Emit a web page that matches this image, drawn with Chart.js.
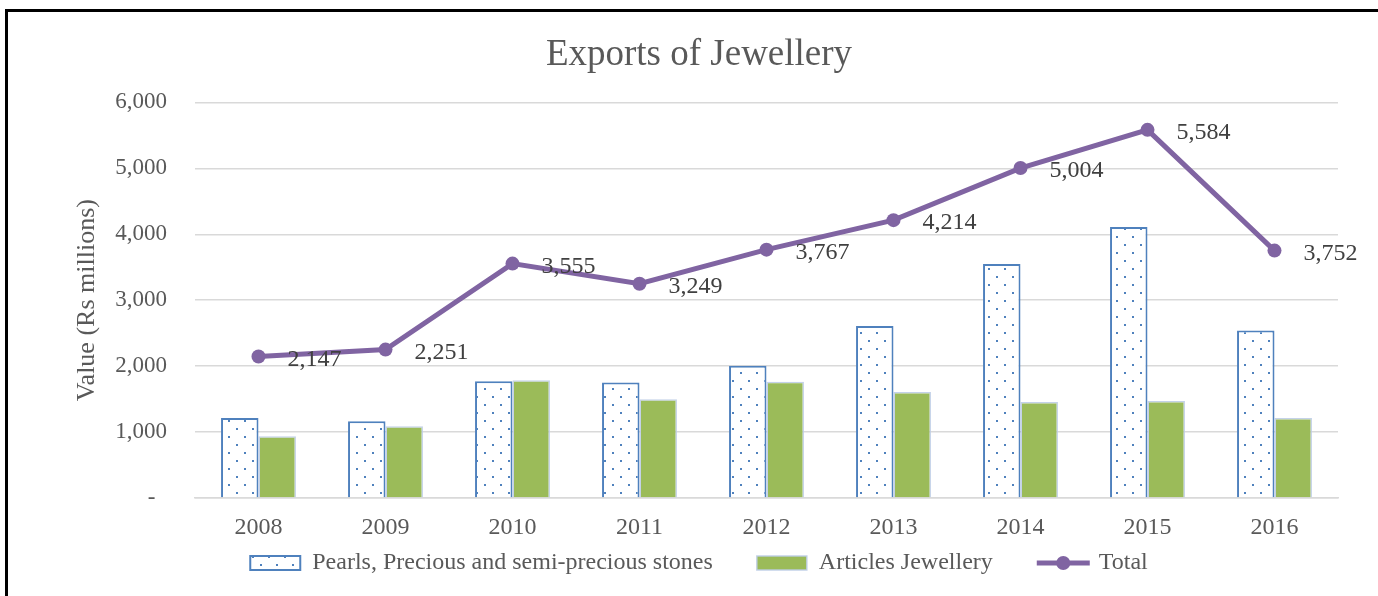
<!DOCTYPE html>
<html><head><meta charset="utf-8">
<script src="https://cdn.jsdelivr.net/npm/chart.js@4.4.1/dist/chart.umd.min.js"></script>
<style>
html,body{margin:0;padding:0;background:#fff;overflow:hidden;}
#wrap{position:relative;width:1378px;height:596px;background:#fff;}
#frame{position:absolute;left:5px;top:9px;width:1400px;height:620px;border-left:3px solid #000;border-top:3px solid #000;pointer-events:none;}
canvas{position:absolute;left:0;top:0;}
</style></head><body>
<div id="wrap"><canvas id="c" width="1378" height="596"></canvas><div id="frame"></div></div>
<script>
const years = ['2008','2009','2010','2011','2012','2013','2014','2015','2016'];
const pearls = [1212,1163,1770,1752,2005,2608,3548,4112,2540];
const articles = [935,1088,1785,1497,1762,1606,1456,1472,1212];
const totals = [2147,2251,3555,3249,3767,4214,5004,5584,3752];
const seriesNames = ['Pearls, Precious and semi-precious stones','Articles Jewellery','Total'];
const chartTitle = 'Exports of Jewellery';
const yAxisTitle = 'Value (Rs millions)';

const FONT = "'Liberation Serif', 'Times New Roman', serif";
const BLUE = '#4F81BD', GREEN = '#9BBB59', PURPLE = '#8064A2';

// dotted pattern
const pc = document.createElement('canvas'); pc.width = 16; pc.height = 16;
const pg = pc.getContext('2d');
pg.fillStyle = '#fff'; pg.fillRect(0,0,16,16);
pg.fillStyle = BLUE; pg.fillRect(4,4,2,2); pg.fillRect(12,12,2,2);
const ctx = document.getElementById('c').getContext('2d');
const dots = ctx.createPattern(pc, 'repeat');

const fmt = v => v.toLocaleString('en-US');
const GAP = '      '; // trailing spacing between legend items

const labelPlugin = {
  id: 'lineLabels',
  afterDatasetsDraw(chart) {
    const meta = chart.getDatasetMeta(2);
    const c = chart.ctx;
    c.save();
    c.font = '24px ' + FONT;
    c.fillStyle = '#404040';
    c.textAlign = 'left';
    c.textBaseline = 'middle';
    meta.data.forEach((pt, i) => {
      c.fillText(fmt(totals[i]), pt.x + 29, pt.y + 3);
    });
    c.restore();
  }
};

const legendIconPlugin = {
  id: 'legendIcon',
  afterDraw(chart) {
    const lg = chart.legend;
    if (!lg || !lg.legendHitBoxes[2]) return;
    const hb = lg.legendHitBoxes[2];
    const c = chart.ctx;
    const cy = hb.top + hb.height / 2;
    c.save();
    c.strokeStyle = PURPLE; c.lineWidth = 5; c.lineCap = 'butt';
    c.beginPath(); c.moveTo(hb.left, cy); c.lineTo(hb.left + 53, cy); c.stroke();
    c.fillStyle = PURPLE;
    c.beginPath(); c.arc(hb.left + 26.5, cy, 7, 0, Math.PI * 2); c.fill();
    c.restore();
  }
};

new Chart(ctx, {
  data: {
    labels: years,
    datasets: [
      { type: 'bar', label: seriesNames[0], data: pearls, backgroundColor: dots, borderColor: BLUE, borderWidth: 2, order: 1,
        categoryPercentage: 0.59, barPercentage: 1 },
      { type: 'bar', label: seriesNames[1], data: articles, backgroundColor: GREEN, borderColor: 'rgba(190,205,230,0.9)', borderWidth: 1.5, order: 1,
        categoryPercentage: 0.59, barPercentage: 1 },
      { type: 'line', label: seriesNames[2], data: totals, borderColor: PURPLE, backgroundColor: PURPLE, borderWidth: 5,
        pointRadius: 7, pointBackgroundColor: PURPLE, pointBorderWidth: 0, tension: 0, order: -1 }
    ]
  },
  options: {
    responsive: false,
    animation: false,
    events: [],
    layout: { padding: { top: 10, right: 40, bottom: 11, left: 60 } },
    plugins: {
      tooltip: { enabled: false },
      title: { display: true, text: chartTitle, color: '#595959',
        font: { family: FONT, size: 37, weight: 'normal' }, padding: { top: 23, bottom: 25 } },
      legend: {
        position: 'bottom',
        labels: {
          font: { family: FONT, size: 24 }, color: '#595959',
          boxWidth: 50, boxHeight: 14, padding: 8,
          sort: (a, b) => a.datasetIndex - b.datasetIndex,
          generateLabels(chart) {
            const items = Chart.defaults.plugins.legend.labels.generateLabels(chart);
            items.forEach(it => {
              if (it.datasetIndex === 2) { it.fillStyle = 'rgba(0,0,0,0)'; it.strokeStyle = 'rgba(0,0,0,0)'; it.lineWidth = 0; }
              else { it.text = it.text + GAP; }
            });
            return items;
          }
        }
      }
    },
    scales: {
      x: {
        grid: { display: false, drawTicks: false },
        border: { display: true, color: '#d9d9d9', width: 1.5 },
        ticks: { font: { family: FONT, size: 24 }, color: '#595959', padding: 15 },
        afterFit(s) { s.height = 45; }
      },
      y: {
        min: 0, max: 6000,
        grid: { color: '#d9d9d9', lineWidth: 1.5, drawTicks: false },
        border: { display: false },
        ticks: { stepSize: 1000, font: { family: FONT, size: 23 }, color: '#595959', padding: 28,
          callback: v => v === 0 ? '-  ' : fmt(v) },
        title: { display: true, text: yAxisTitle, color: '#595959', font: { family: FONT, size: 26 }, padding: { top: 12 } },
        afterFit(s) { s.width = 135; }
      }
    }
  },
  plugins: [labelPlugin, legendIconPlugin]
});
</script>
</body></html>
